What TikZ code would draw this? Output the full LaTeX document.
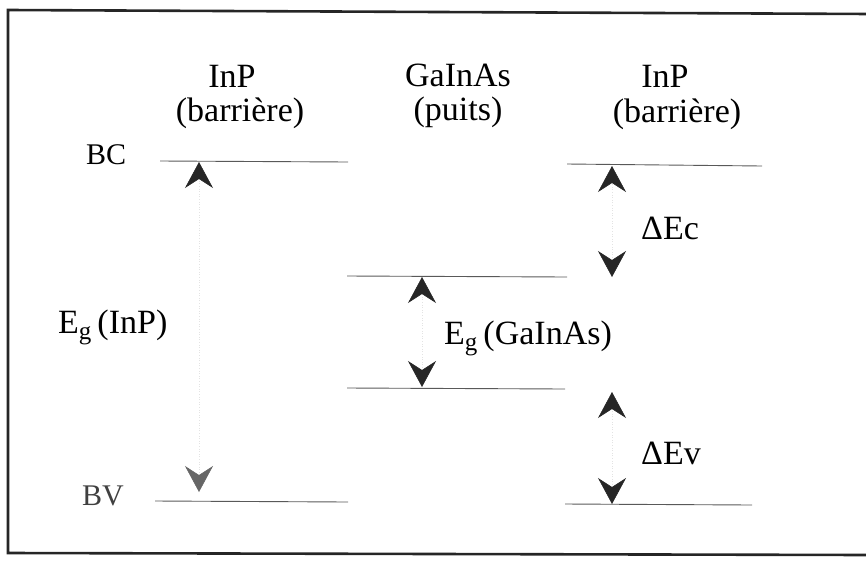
\documentclass[tikz,border=0pt]{standalone}
\usepackage{fontspec}
\setmainfont{Liberation Serif}
\usetikzlibrary{arrows.meta}
\tikzset{
  hd/.tip={Stealth[length=26pt, width=28pt, inset=9pt, color=black!85]},
  hdg/.tip={Stealth[length=26pt, width=28pt, inset=9pt, color=black!60]},
  lvl/.style={draw=black!65, line width=0.9pt},
  frm/.style={draw=black!85, line width=2.6pt},
  shaft/.style={draw=gray!22, line width=0.6pt, dotted},
  big/.style={font=\fontsize{34}{38}\selectfont, inner sep=0pt, anchor=base},
  mid/.style={font=\fontsize{30}{34}\selectfont, inner sep=0pt, anchor=base west},
}
\newcommand{\Eg}{E\raisebox{-6pt}{\fontsize{25}{28}\selectfont g}\hspace{6pt}}
\begin{document}
\begin{tikzpicture}[x=1pt, y=-1pt]
\useasboundingbox (0,0) rectangle (866,565);
% frame
\coordinate (f1) at (870,14);
\coordinate (f2) at (8,10);
\coordinate (f3) at (8,553);
\coordinate (f4) at (870,555);
\draw[frm] (f1) -- (f2) -- (f3) -- (f4);

% column headings
\node[big] (h1) at (232,87) {InP};
\node[big] (h1b) at (240,121) {(barrière)};
\node[big] (h2) at (458,86) {GaInAs};
\node[big] (h2b) at (458,120) {(puits)};
\node[big] (h3) at (665,87) {InP};
\node[big] (h3b) at (677,122) {(barrière)};

% band labels
\node[mid] (bc) at (86,164) {BC};
\node[mid, text=black!75] (bv) at (82,505) {BV};

% levels
\coordinate (bcL1) at (160,161);
\coordinate (bcL2) at (348,162);
\coordinate (wt1) at (347,276);
\coordinate (wt2) at (567,277);
\coordinate (bcR1) at (567,164);
\coordinate (bcR2) at (762,166);
\coordinate (wb1) at (347,388);
\coordinate (wb2) at (565,389);
\coordinate (bvL1) at (155,501);
\coordinate (bvL2) at (348,502);
\coordinate (bvR1) at (565,504);
\coordinate (bvR2) at (752,505);
\draw[lvl] (bcL1) -- (bcL2);
\draw[lvl] (wt1) -- (wt2);
\draw[lvl] (bcR1) -- (bcR2);
\draw[lvl] (wb1) -- (wb2);
\draw[lvl] (bvL1) -- (bvL2);
\draw[lvl] (bvR1) -- (bvR2);

% arrows
\coordinate (a1t) at (199,162);
\coordinate (a1b) at (199,492);
\coordinate (a2t) at (422,277);
\coordinate (a2b) at (422,387);
\coordinate (a3t) at (612,166);
\coordinate (a3b) at (612,277);
\coordinate (a4t) at (612,392);
\coordinate (a4b) at (612,504);
\draw[shaft, {hdg}-{hd}] (a1b) -- (a1t);
\draw[shaft, {hd}-{hd}] (a2b) -- (a2t);
\draw[shaft, {hd}-{hd}] (a3b) -- (a3t);
\draw[shaft, {hd}-{hd}] (a4b) -- (a4t);

% gap labels
\node[big, anchor=base west] (egi) at (58,333) {\Eg(InP)};
\node[big, anchor=base west] (egg) at (444,344) {\Eg(GaInAs)};
\node[big, anchor=base west] (dec) at (641,239) {ΔEc};
\node[big, anchor=base west] (dev) at (641,464) {ΔEv};
\end{tikzpicture}
\end{document}
